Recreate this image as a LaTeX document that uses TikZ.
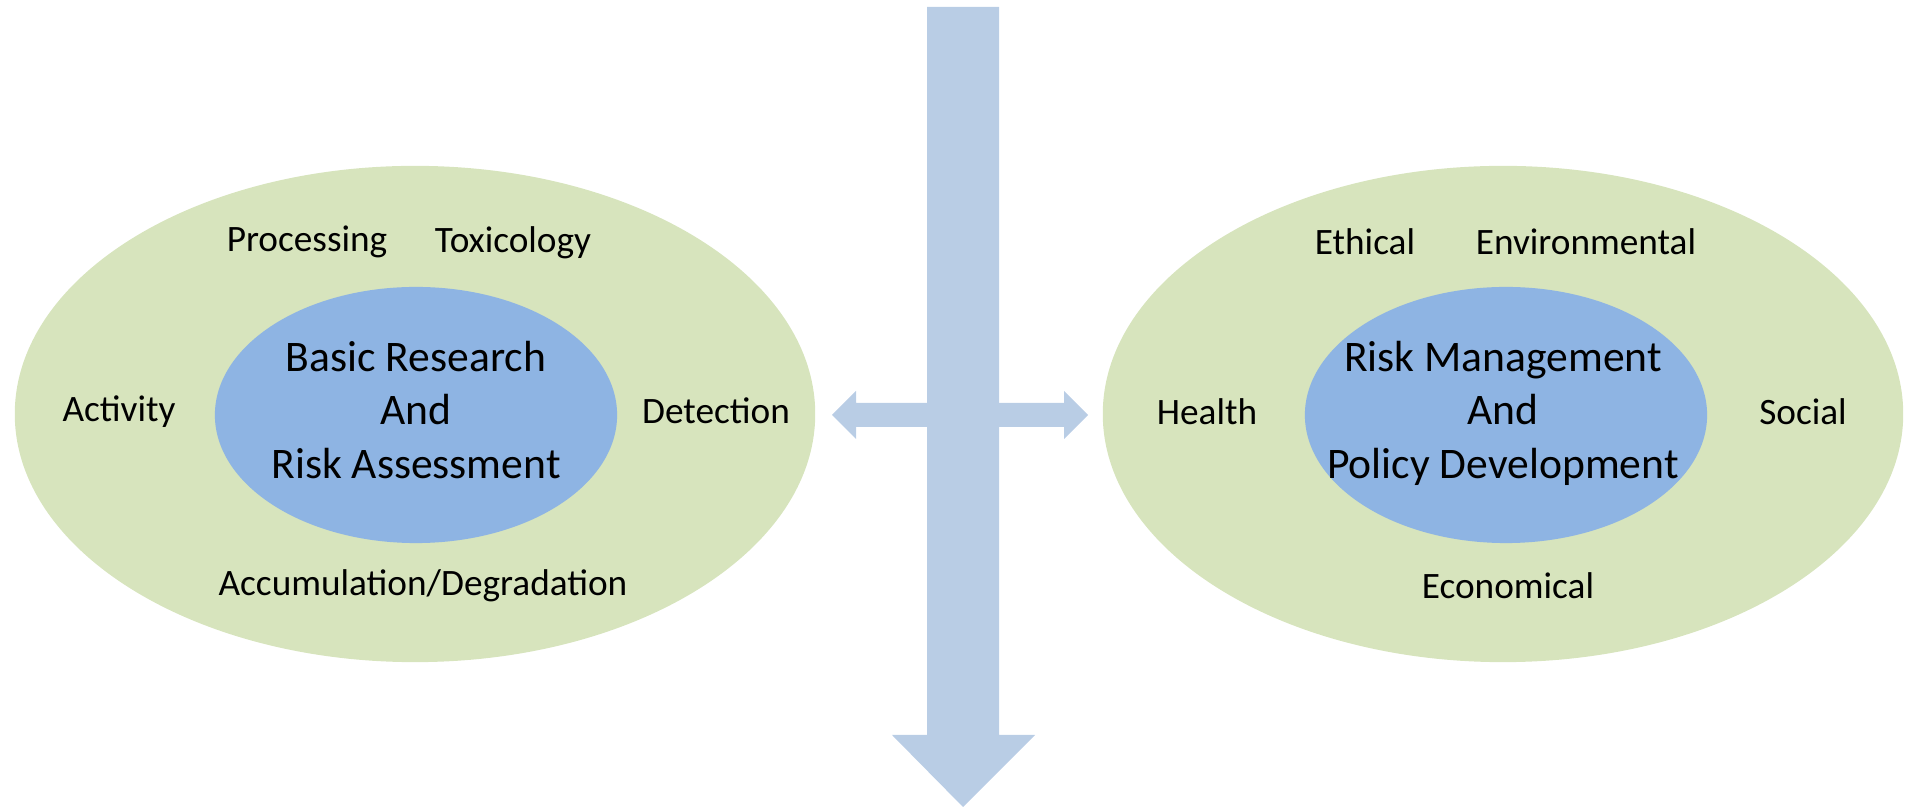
\documentclass[tikz,border=0pt]{standalone}
\usepackage{fontspec}
\setmainfont{Carlito}
\usetikzlibrary{positioning, shapes.geometric}
\definecolor{outergreen}{HTML}{D7E4BD}
\definecolor{innerblue}{HTML}{8EB4E3}
\definecolor{arrowblue}{HTML}{B9CDE5}
\tikzset{
    outer/.style={ellipse, fill=outergreen, draw=none, minimum width=8cm, minimum height=4.96cm},
    inner/.style={ellipse, fill=innerblue, draw=none, minimum width=4.02cm, minimum height=2.56cm},
    topic/.style={font=\fontsize{10.6}{12.7}\selectfont, inner sep=0pt},
    core/.style={font=\fontsize{12.4}{15.2}\selectfont, align=center, inner sep=0pt},
    flow/.style={fill=arrowblue, draw=none},
}
\begin{document}
\begin{tikzpicture}[x=0.01cm, y=-0.01cm]
    \useasboundingbox (0,0) rectangle (1905,807);

    % left side
    \node[outer] (lo) at (415,414) {};
    \node[inner] (li) at (416,415) {};
    \node[core] (lc) at (416,410) {Basic Research\\And\\Risk Assessment};
    \node[topic] (proc) at (307,242) {Processing};
    \node[topic] (tox) at (513,243) {Toxicology};
    \node[topic] (act) at (119,412) {Activity};
    \node[topic] (det) at (716,411) {Detection};
    \node[topic] (acc) at (423,586) {Accumulation/Degradation};

    % right side
    \node[outer] (ro) at (1503,414) {};
    \node[inner] (ri) at (1506,415) {};
    \node[core] (rc) at (1503,413) {Risk Management\\And\\Policy Development};
    \node[topic] (eth) at (1365,242) {Ethical};
    \node[topic] (env) at (1586,242) {Environmental};
    \node[topic] (hea) at (1207,412) {Health};
    \node[topic] (soc) at (1803,412) {Social};
    \node[topic] (eco) at (1508,586) {Economical};

    % arrows
    \fill[flow] (832,415) -- (856,391) -- (856,403) -- (1064,403) -- (1064,391)
        -- (1088,415) -- (1064,439) -- (1064,427) -- (856,427) -- (856,439) -- cycle;
    \fill[flow] (927,7) -- (999,7) -- (999,735) -- (1035,735) -- (963,807)
        -- (892,735) -- (927,735) -- cycle;
\end{tikzpicture}
\end{document}
